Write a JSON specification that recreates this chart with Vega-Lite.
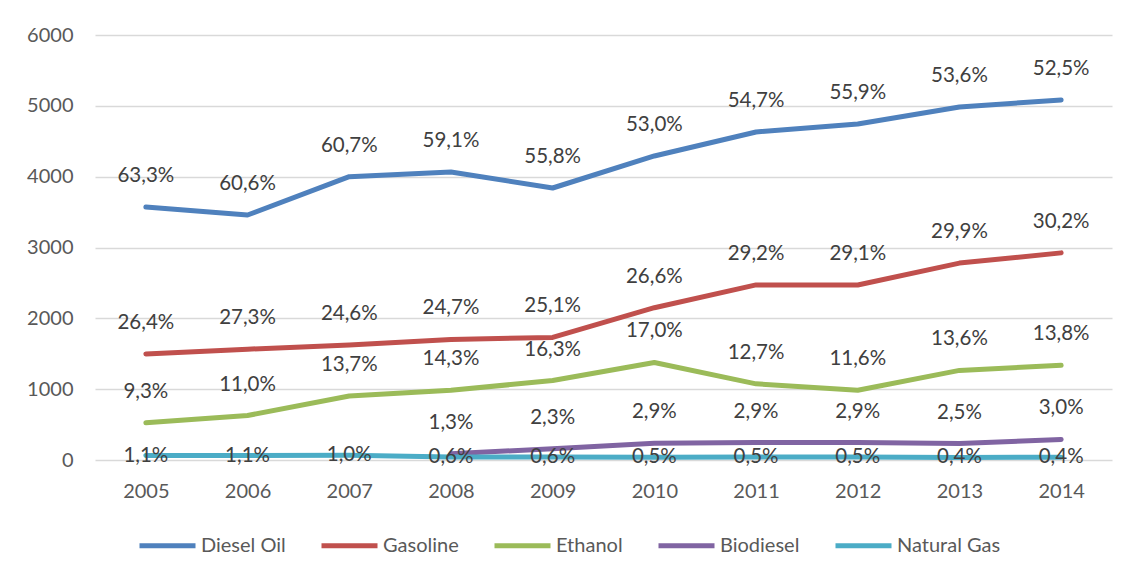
{
  "$schema": "https://vega.github.io/schema/vega-lite/v6.json",
  "width": 1017,
  "height": 425,
  "autosize": {"type": "none"},
  "padding": {"left": 95, "top": 35, "right": 19, "bottom": 121},
  "background": "white",
  "config": {
    "view": {"stroke": null},
    "font": "Lato",
    "axis": {"labelFont": "Lato", "labelFontSize": 20, "labelColor": "#595959", "title": null},
    "legend": {"labelFont": "Lato", "labelFontSize": 20, "labelColor": "#595959"}
  },
  "data": {
    "values": [
      {"year": "2005", "fuel": "Diesel Oil", "value": 3572, "label": "63,3%"},
      {"year": "2006", "fuel": "Diesel Oil", "value": 3459, "label": "60,6%"},
      {"year": "2007", "fuel": "Diesel Oil", "value": 4000, "label": "60,7%"},
      {"year": "2008", "fuel": "Diesel Oil", "value": 4066, "label": "59,1%"},
      {"year": "2009", "fuel": "Diesel Oil", "value": 3840, "label": "55,8%"},
      {"year": "2010", "fuel": "Diesel Oil", "value": 4292, "label": "53,0%"},
      {"year": "2011", "fuel": "Diesel Oil", "value": 4631, "label": "54,7%"},
      {"year": "2012", "fuel": "Diesel Oil", "value": 4744, "label": "55,9%"},
      {"year": "2013", "fuel": "Diesel Oil", "value": 4984, "label": "53,6%"},
      {"year": "2014", "fuel": "Diesel Oil", "value": 5083, "label": "52,5%"},
      {"year": "2005", "fuel": "Gasoline", "value": 1497, "label": "26,4%"},
      {"year": "2006", "fuel": "Gasoline", "value": 1565, "label": "27,3%"},
      {"year": "2007", "fuel": "Gasoline", "value": 1622, "label": "24,6%"},
      {"year": "2008", "fuel": "Gasoline", "value": 1702, "label": "24,7%"},
      {"year": "2009", "fuel": "Gasoline", "value": 1730, "label": "25,1%"},
      {"year": "2010", "fuel": "Gasoline", "value": 2150, "label": "26,6%"},
      {"year": "2011", "fuel": "Gasoline", "value": 2472, "label": "29,2%"},
      {"year": "2012", "fuel": "Gasoline", "value": 2471, "label": "29,1%"},
      {"year": "2013", "fuel": "Gasoline", "value": 2780, "label": "29,9%"},
      {"year": "2014", "fuel": "Gasoline", "value": 2924, "label": "30,2%"},
      {"year": "2005", "fuel": "Ethanol", "value": 525, "label": "9,3%"},
      {"year": "2006", "fuel": "Ethanol", "value": 628, "label": "11,0%"},
      {"year": "2007", "fuel": "Ethanol", "value": 903, "label": "13,7%"},
      {"year": "2008", "fuel": "Ethanol", "value": 984, "label": "14,3%"},
      {"year": "2009", "fuel": "Ethanol", "value": 1122, "label": "16,3%"},
      {"year": "2010", "fuel": "Ethanol", "value": 1377, "label": "17,0%"},
      {"year": "2011", "fuel": "Ethanol", "value": 1075, "label": "12,7%"},
      {"year": "2012", "fuel": "Ethanol", "value": 985, "label": "11,6%"},
      {"year": "2013", "fuel": "Ethanol", "value": 1265, "label": "13,6%"},
      {"year": "2014", "fuel": "Ethanol", "value": 1336, "label": "13,8%"},
      {"year": "2008", "fuel": "Biodiesel", "value": 89, "label": "1,3%"},
      {"year": "2009", "fuel": "Biodiesel", "value": 158, "label": "2,3%"},
      {"year": "2010", "fuel": "Biodiesel", "value": 235, "label": "2,9%"},
      {"year": "2011", "fuel": "Biodiesel", "value": 246, "label": "2,9%"},
      {"year": "2012", "fuel": "Biodiesel", "value": 246, "label": "2,9%"},
      {"year": "2013", "fuel": "Biodiesel", "value": 232, "label": "2,5%"},
      {"year": "2014", "fuel": "Biodiesel", "value": 290, "label": "3,0%"},
      {"year": "2005", "fuel": "Natural Gas", "value": 62, "label": "1,1%"},
      {"year": "2006", "fuel": "Natural Gas", "value": 63, "label": "1,1%"},
      {"year": "2007", "fuel": "Natural Gas", "value": 66, "label": "1,0%"},
      {"year": "2008", "fuel": "Natural Gas", "value": 41, "label": "0,6%"},
      {"year": "2009", "fuel": "Natural Gas", "value": 41, "label": "0,6%"},
      {"year": "2010", "fuel": "Natural Gas", "value": 40, "label": "0,5%"},
      {"year": "2011", "fuel": "Natural Gas", "value": 42, "label": "0,5%"},
      {"year": "2012", "fuel": "Natural Gas", "value": 42, "label": "0,5%"},
      {"year": "2013", "fuel": "Natural Gas", "value": 37, "label": "0,4%"},
      {"year": "2014", "fuel": "Natural Gas", "value": 39, "label": "0,4%"}
    ]
  },
  "encoding": {
    "x": {
      "field": "year", "type": "ordinal",
      "scale": {"type": "point", "padding": 0.5},
      "axis": {"labelAngle": 0, "domain": false, "ticks": false, "grid": false, "labelPadding": 21}
    },
    "y": {
      "field": "value", "type": "quantitative",
      "scale": {"domain": [0, 6000], "nice": false},
      "axis": {"values": [0, 1000, 2000, 3000, 4000, 5000, 6000], "format": "d", "domain": false, "ticks": false, "grid": true, "gridColor": "#D9D9D9", "gridWidth": 1.3, "labelPadding": 22}
    }
  },
  "layer": [
    {
      "mark": {"type": "line", "strokeWidth": 5, "strokeCap": "round", "strokeJoin": "round"},
      "encoding": {
        "color": {
          "field": "fuel", "type": "nominal",
          "scale": {"domain": ["Diesel Oil", "Gasoline", "Ethanol", "Biodiesel", "Natural Gas"], "range": ["#4F81BD", "#C0504D", "#9BBB59", "#8064A2", "#4BACC6"]},
          "legend": {"title": null, "orient": "none", "direction": "horizontal", "legendX": 42, "legendY": 480, "symbolType": "stroke", "symbolStrokeWidth": 5, "symbolSize": 3136, "labelOffset": 3, "columnPadding": 25}
        }
      }
    },
    {
      "transform": [{"filter": "datum.fuel !== 'Natural Gas'"}],
      "mark": {"type": "text", "fontSize": 20.5, "color": "#404040", "baseline": "middle", "dy": -31},
      "encoding": {"text": {"field": "label"}}
    },
    {
      "transform": [{"filter": "datum.fuel === 'Natural Gas'"}],
      "mark": {"type": "text", "fontSize": 20.5, "color": "#404040", "baseline": "middle", "dy": 0},
      "encoding": {"text": {"field": "label"}}
    }
  ]
}
